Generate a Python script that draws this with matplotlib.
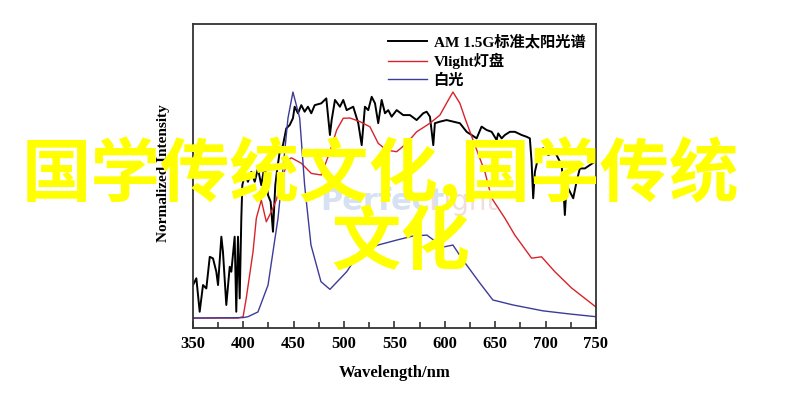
import matplotlib.pyplot as plt

plt.rcParams['font.family'] = ['Liberation Serif', 'Noto Sans CJK SC']

# AM 1.5G solar spectrum (normalized)
am_nm = [350.3, 353.6, 356.9, 360.2, 363.5, 366.9, 370.1, 373.4, 375.1, 378.4,
         380.0, 383.3, 386.7, 388.3, 391.6, 393.2, 394.9, 396.6, 398.2, 399.2,
         401.6, 404.8, 408.1, 411.5, 414.7, 418.0, 421.4, 424.7, 427.3, 429.6,
         431.9, 433.9, 436.3, 439.5, 442.8, 446.2, 449.4, 451.1, 454.4, 457.7,
         461.0, 464.3, 467.6, 471.0, 477.5, 482.5, 486.1, 487.8, 491.1, 496.0,
         499.3, 502.7, 509.2, 514.2, 517.6, 520.8, 524.1, 527.5, 530.8, 534.0,
         537.4, 540.7, 543.9, 547.3, 552.3, 558.8, 565.5, 572.1, 578.6, 582.0,
         585.3, 588.6, 590.2, 595.2, 601.8, 608.4, 615.0, 621.7, 626.6, 631.6,
         636.5, 641.5, 646.5, 651.4, 653.0, 656.4, 659.6, 664.6, 669.6, 676.2,
         681.2, 684.4, 686.1, 687.7, 689.4, 694.3, 697.6, 702.6, 709.2, 715.9,
         717.5, 719.1, 720.8, 724.1, 727.4, 730.7, 734.0, 739.0, 743.9, 748.9]
am_int = [0.146, 0.176, 0.028, 0.146, 0.131, 0.271, 0.264, 0.205, 0.146, 0.360,
          0.293, 0.058, 0.227, 0.205, 0.360, 0.028, 0.360, 0.087, 0.441, 0.588,
          0.633, 0.603, 0.647, 0.603, 0.662, 0.588, 0.677, 0.544, 0.515, 0.382,
          0.588, 0.662, 0.736, 0.765, 0.839, 0.854, 0.884, 0.935, 0.906, 0.942,
          0.913, 0.935, 0.906, 0.942, 0.950, 0.972, 0.810, 0.876, 0.965, 0.935,
          0.965, 0.920, 0.935, 0.862, 0.765, 0.935, 0.920, 0.979, 0.950, 0.862,
          0.965, 0.906, 0.920, 0.891, 0.920, 0.898, 0.898, 0.876, 0.906, 0.913,
          0.891, 0.765, 0.862, 0.869, 0.876, 0.869, 0.862, 0.824, 0.810, 0.795,
          0.847, 0.832, 0.824, 0.788, 0.817, 0.795, 0.810, 0.824, 0.824, 0.810,
          0.802, 0.795, 0.692, 0.530, 0.647, 0.743, 0.751, 0.721, 0.736, 0.677,
          0.588, 0.456, 0.588, 0.559, 0.530, 0.603, 0.662, 0.662, 0.677, 0.692]

# Vlight lamp panel
vl_nm = [350.0, 395.0, 400.0, 403.1, 409.8, 413.1, 418.0, 423.0, 427.9, 432.9,
         437.8, 444.5, 447.8, 457.7, 467.6, 477.5, 486.1, 492.8, 499.3, 506.0,
         515.9, 525.8, 534.0, 542.3, 552.3, 562.2, 572.1, 585.3, 595.2, 601.8,
         608.1, 615.0, 620.0, 629.9, 639.8, 646.5, 649.7, 659.6, 669.5, 686.1,
         696.0, 709.2, 725.8, 749.9]
vl_int = [0.0, 0.0, 0.006, 0.088, 0.293, 0.442, 0.522, 0.426, 0.470, 0.522,
          0.603, 0.699, 0.709, 0.685, 0.640, 0.633, 0.736, 0.832, 0.884, 0.885,
          0.869, 0.846, 0.773, 0.743, 0.736, 0.773, 0.824, 0.862, 0.898, 0.951,
          1.000, 0.950, 0.885, 0.765, 0.647, 0.531, 0.509, 0.442, 0.367, 0.265,
          0.271, 0.205, 0.133, 0.049]

# white light
wl_nm = [350.0, 400.0, 404.8, 414.7, 424.7, 434.6, 441.2, 444.5, 449.4, 456.1,
         461.0, 467.3, 477.2, 486.1, 502.7, 515.9, 533.7, 552.3, 568.4, 582.3,
         598.2, 608.1, 618.0, 634.8, 647.7, 667.6, 697.3, 724.0, 750.0]
wl_int = [0.0, 0.002, 0.006, 0.027, 0.146, 0.442, 0.736, 0.885, 1.000, 0.885,
          0.588, 0.323, 0.161, 0.127, 0.205, 0.293, 0.323, 0.345, 0.363, 0.367,
          0.314, 0.323, 0.257, 0.155, 0.080, 0.058, 0.032, 0.018, 0.006]

labels = ['AM 1.5G标准太阳光谱', 'Vlight灯盘', '白光']

fig = plt.figure(figsize=(8, 3.96), dpi=100)
ax = fig.add_axes([0.2409, 0.1717, 0.5041, 0.7677])

ax.plot(am_nm, am_int, color='black', lw=1.4, label=labels[0])
ax.plot(vl_nm, vl_int, color='#d8232a', lw=1.0, label=labels[1])
ax.plot(wl_nm, wl_int, color='#3c3c98', lw=1.0, label=labels[2])

ax.set_xlim(350, 750)
ax.set_ylim(-0.044, 1.301)
ax.set_xticks(range(350, 751, 50))
ax.set_xticks(range(375, 750, 50), minor=True)
ax.set_yticks([])
ax.tick_params(axis='x', which='both', direction='in', width=1.2, color='#333333')
ax.tick_params(axis='x', which='major', length=5, pad=6, labelsize=12)
ax.tick_params(axis='x', which='minor', length=4)
for lab in ax.get_xticklabels():
    lab.set_fontweight('bold')
for sp in ax.spines.values():
    sp.set_linewidth(1.3)
    sp.set_color('#333333')

ax.set_xlabel('Wavelength/nm', fontsize=12, fontweight='bold')
ax.xaxis.set_label_coords(0.5, -0.122)
ax.set_ylabel('Normalized Intensity', fontsize=11, fontweight='bold')
ax.yaxis.set_label_coords(-0.056, 0.51)

ax.legend(loc='upper right', bbox_to_anchor=(1.0, 1.0), frameon=False,
          prop={'size': 11, 'weight': 'bold'}, handlelength=2.6,
          handletextpad=0.4, labelspacing=0.25, borderaxespad=0.3)

# faint watermark
fig.text(0.40, 0.49, 'Perfect', fontsize=22, fontweight='bold', color='#d6e2f1',
         family='DejaVu Sans', ha='left', va='center', zorder=5)
fig.text(0.535, 0.49, 'Light', fontsize=20, color='#efdedb',
         family='DejaVu Sans', ha='left', va='center', zorder=5)

# yellow overlay text
fig.text(0.4756, 0.563, '国学传统文化,国学传统', fontsize=50, fontweight='bold',
         color='#ffff00', family=['Noto Sans CJK SC'], ha='center', va='center', zorder=10)
fig.text(0.501, 0.385, '文化', fontsize=50, fontweight='bold',
         color='#ffff00', family=['Noto Sans CJK SC'], ha='center', va='center', zorder=10)

fig.savefig('out.png', dpi=100)
